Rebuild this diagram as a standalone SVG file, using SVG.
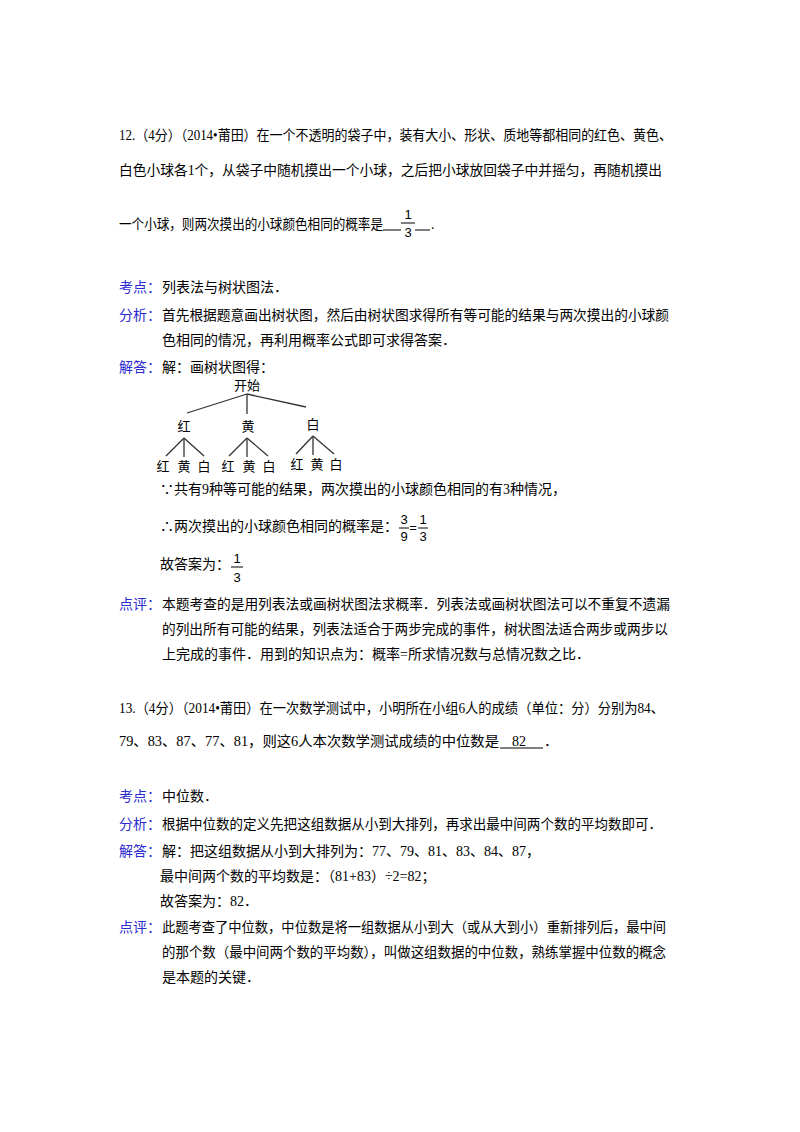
<svg xmlns="http://www.w3.org/2000/svg" width="800" height="1132" viewBox="0 0 800 1132">
<style>
text{font-family:"Liberation Serif","Noto Sans CJK SC",serif;font-size:14px;fill:#000}
.b{fill:#2a2ad0}
.s{font-family:"Liberation Sans","Noto Sans CJK SC",sans-serif;font-size:13px}
.f{font-family:"Liberation Sans",sans-serif;font-size:13px;text-anchor:middle}
line{stroke:#000;stroke-width:1}
.t line{stroke:#333;stroke-width:1.3}
</style>
<rect width="800" height="1132" fill="#fff"/>
<text x="119" y="140" textLength="553" lengthAdjust="spacingAndGlyphs">12.（4分）（2014•莆田）在一个不透明的袋子中，装有大小、形状、质地等都相同的红色、黄色、</text>
<text x="119" y="175" textLength="543" lengthAdjust="spacingAndGlyphs">白色小球各1个，从袋子中随机摸出一个小球，之后把小球放回袋子中并摇匀，再随机摸出</text>
<text x="119" y="229" textLength="264" lengthAdjust="spacingAndGlyphs">一个小球，则两次摸出的小球颜色相同的概率是</text>
<line x1="383" y1="230" x2="401" y2="230"/><line x1="415" y1="230" x2="430" y2="230"/>
<text class="f" x="408" y="219">1</text><line x1="401" y1="223" x2="415" y2="223"/><text class="f" x="408" y="237">3</text>
<text x="431" y="229">.</text>

<text class="b" x="119" y="292">考点：</text><text x="162" y="292">列表法与树状图法．</text>
<text class="b" x="119" y="320">分析：</text><text x="162" y="320" textLength="507" lengthAdjust="spacingAndGlyphs">首先根据题意画出树状图，然后由树状图求得所有等可能的结果与两次摸出的小球颜</text>
<text x="162" y="345">色相同的情况，再利用概率公式即可求得答案．</text>
<text class="b" x="119" y="372">解答：</text><text x="162" y="372">解：画树状图得：</text>

<g id="tree" class="t">
<text class="s" x="247" y="390" text-anchor="middle">开始</text>
<line x1="247" y1="394" x2="187" y2="413"/><line x1="247" y1="394" x2="247" y2="414"/><line x1="247" y1="394" x2="306" y2="407"/>
<text class="s" x="184" y="431" text-anchor="middle">红</text>
<text class="s" x="248" y="431" text-anchor="middle">黄</text>
<text class="s" x="313" y="429" text-anchor="middle">白</text>
<line x1="184" y1="438" x2="166" y2="456"/><line x1="184" y1="438" x2="184" y2="457"/><line x1="184" y1="438" x2="204" y2="456"/>
<line x1="247" y1="438" x2="229" y2="456"/><line x1="247" y1="438" x2="247" y2="457"/><line x1="247" y1="438" x2="268" y2="456"/>
<line x1="313" y1="436" x2="296" y2="454"/><line x1="313" y1="436" x2="313" y2="455"/><line x1="313" y1="436" x2="334" y2="454"/>
<text class="s" x="163" y="471" text-anchor="middle">红</text><text class="s" x="184" y="471" text-anchor="middle">黄</text><text class="s" x="204" y="471" text-anchor="middle">白</text>
<text class="s" x="228" y="471" text-anchor="middle">红</text><text class="s" x="249" y="471" text-anchor="middle">黄</text><text class="s" x="269" y="471" text-anchor="middle">白</text>
<text class="s" x="297" y="469" text-anchor="middle">红</text><text class="s" x="317" y="469" text-anchor="middle">黄</text><text class="s" x="336" y="469" text-anchor="middle">白</text>
</g>

<text x="160" y="494">∵共有9种等可能的结果，两次摸出的小球颜色相同的有3种情况，</text>
<text x="160" y="531">∴两次摸出的小球颜色相同的概率是：</text>
<text class="f" x="404" y="524">3</text><line x1="399" y1="528" x2="409" y2="528"/><text class="f" x="404" y="541">9</text>
<text class="f" x="413" y="532">=</text>
<text class="f" x="423" y="524">1</text><line x1="418" y1="528" x2="428" y2="528"/><text class="f" x="423" y="541">3</text>
<text x="160" y="569">故答案为：</text>
<text class="f" x="237" y="563">1</text><line x1="231" y1="567" x2="243" y2="567"/><text class="f" x="237" y="582">3</text>

<text class="b" x="119" y="609">点评：</text><text x="162" y="609" textLength="508" lengthAdjust="spacingAndGlyphs">本题考查的是用列表法或画树状图法求概率．列表法或画树状图法可以不重复不遗漏</text>
<text x="162" y="634" textLength="506" lengthAdjust="spacingAndGlyphs">的列出所有可能的结果，列表法适合于两步完成的事件，树状图法适合两步或两步以</text>
<text x="162" y="659">上完成的事件．用到的知识点为：概率=所求情况数与总情况数之比．</text>

<text x="119" y="713" textLength="545" lengthAdjust="spacingAndGlyphs">13.（4分）（2014•莆田）在一次数学测试中，小明所在小组6人的成绩（单位：分）分别为84、</text>
<text x="119" y="746" textLength="380" lengthAdjust="spacingAndGlyphs">79、83、87、77、81，则这6人本次数学测试成绩的中位数是</text>
<text x="512" y="746">82</text><line x1="500" y1="748" x2="543" y2="748"/><text x="544" y="746">．</text>

<text class="b" x="119" y="801">考点：</text><text x="162" y="801">中位数．</text>
<text class="b" x="119" y="829">分析：</text><text x="162" y="829" textLength="500" lengthAdjust="spacingAndGlyphs">根据中位数的定义先把这组数据从小到大排列，再求出最中间两个数的平均数即可．</text>
<text class="b" x="119" y="856">解答：</text><text x="162" y="856">解：把这组数据从小到大排列为：77、79、81、83、84、87，</text>
<text x="160" y="881">最中间两个数的平均数是：（81+83）÷2=82；</text>
<text x="160" y="906">故答案为：82．</text>
<text class="b" x="119" y="932">点评：</text><text x="162" y="932" textLength="504" lengthAdjust="spacingAndGlyphs">此题考查了中位数，中位数是将一组数据从小到大（或从大到小）重新排列后，最中间</text>
<text x="162" y="957" textLength="504" lengthAdjust="spacingAndGlyphs">的那个数（最中间两个数的平均数），叫做这组数据的中位数，熟练掌握中位数的概念</text>
<text x="162" y="982">是本题的关键．</text>
</svg>
